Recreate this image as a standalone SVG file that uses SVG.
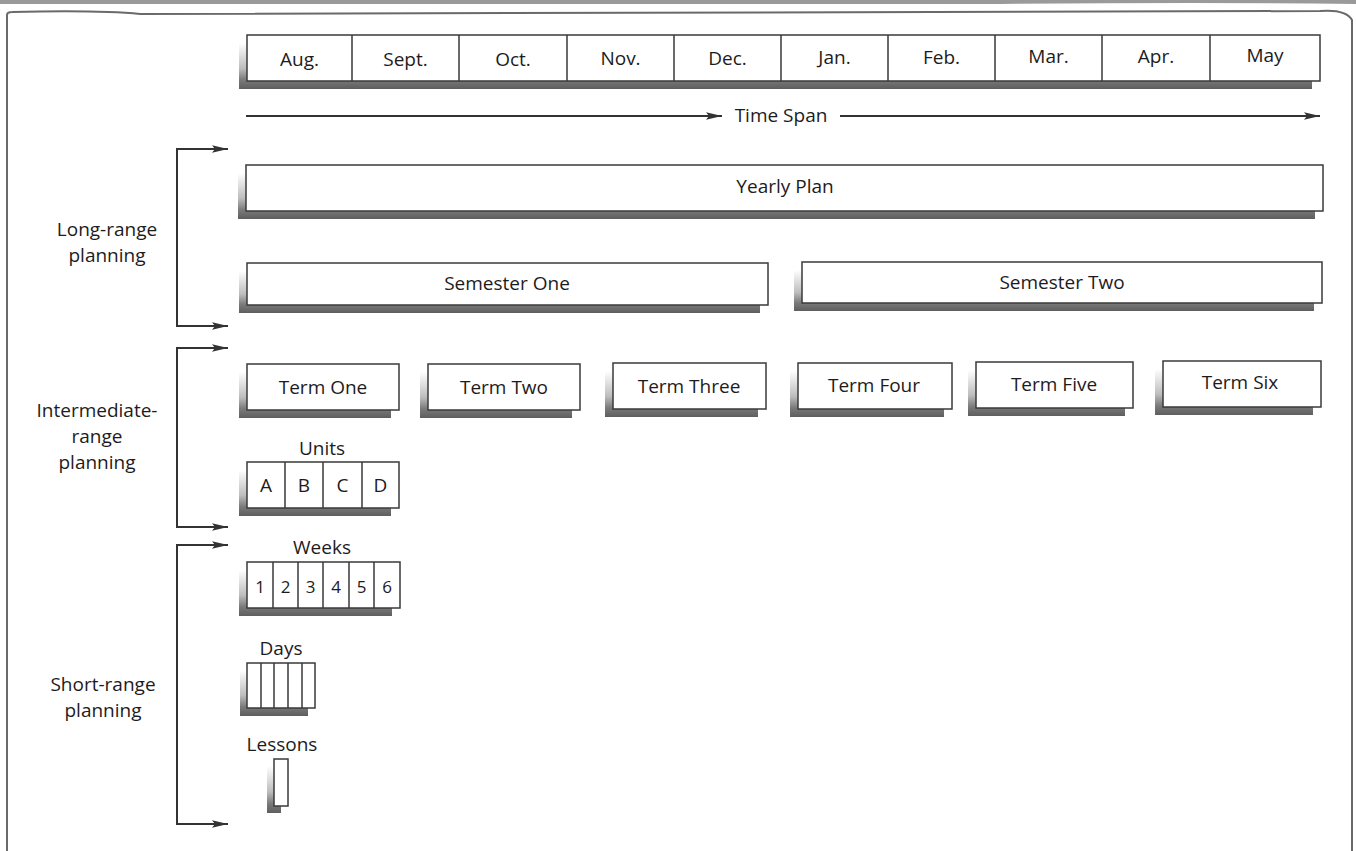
<svg xmlns="http://www.w3.org/2000/svg" width="1356" height="851" viewBox="0 0 1356 851">
<defs>
<linearGradient id="sh" x1="0" y1="0" x2="0" y2="1">
<stop offset="0" stop-color="#ffffff"/>
<stop offset="0.55" stop-color="#bdbdbd"/>
<stop offset="0.8" stop-color="#7a7a7a"/>
<stop offset="1" stop-color="#5e5e5e"/>
</linearGradient>
<marker id="ah" markerUnits="userSpaceOnUse" markerWidth="17" markerHeight="10" refX="16" refY="5" orient="auto">
<path d="M0,1.2 L16,5 L0,8.8 L3,5 Z" fill="#333"/>
</marker>
<style>
text{font-family:"Open Sans","Noto Sans","Liberation Sans",sans-serif;fill:#1e1b1c;font-size:19px;text-anchor:middle}
.box{fill:#fff;stroke:#3a3a3a;stroke-width:1.5}
.sh{fill:url(#sh)}
.div{stroke:#3a3a3a;stroke-width:1.5}
.con{fill:none;stroke:#333;stroke-width:2}
.frame{fill:none;stroke:#6a6a6a;stroke-width:2}
.sm{font-size:17px}
</style>
</defs>
<rect width="1356" height="851" fill="#fff"/>
<path d="M0,0 H1356 V4 Q1200,2 1000,4 H0 Z" fill="#9a9a9a"/>
<path class="frame" d="M7,851 V15 Q7,12 12,12 Q100,10 140,14 L1320,11 Q1346,9 1352,20 V851"/>

<g id="months">
<rect class="sh" x="239" y="43" width="1073" height="46"/>
<rect class="box" x="247" y="35" width="1073" height="46"/>
<path class="div" d="M352,35V81M459,35V81M567,35V81M674,35V81M781,35V81M888,35V81M995,35V81M1102,35V81M1210,35V81"/>
<text x="299.5" y="66">Aug.</text>
<text x="405.5" y="66">Sept.</text>
<text x="513" y="66">Oct.</text>
<text x="620.5" y="65">Nov.</text>
<text x="727.5" y="65">Dec.</text>
<text x="834.5" y="64">Jan.</text>
<text x="941.5" y="64">Feb.</text>
<text x="1048.5" y="63">Mar.</text>
<text x="1156" y="63">Apr.</text>
<text x="1265" y="62">May</text>
</g>

<g id="time-span">
<text x="781" y="122">Time Span</text>
</g>

<g id="yearly-plan">
<rect class="sh" x="238" y="173" width="1077" height="46"/>
<rect class="box" x="246" y="165" width="1077" height="46"/>
<text x="785" y="193">Yearly Plan</text>
</g>

<g id="semester-one">
<rect class="sh" x="239" y="271" width="521" height="42"/>
<rect class="box" x="247" y="263" width="521" height="42"/>
<text x="507" y="290">Semester One</text>
</g>

<g id="semester-two">
<rect class="sh" x="794" y="270" width="520" height="41"/>
<rect class="box" x="802" y="262" width="520" height="41"/>
<text x="1062" y="289">Semester Two</text>
</g>

<g id="term-one">
<rect class="sh" x="239" y="372" width="152" height="46"/>
<rect class="box" x="247" y="364" width="152" height="46"/>
<text x="323" y="394">Term One</text>
</g>
<g id="term-two">
<rect class="sh" x="420" y="372" width="152" height="46"/>
<rect class="box" x="428" y="364" width="152" height="46"/>
<text x="504" y="394">Term Two</text>
</g>
<g id="term-three">
<rect class="sh" x="605" y="371" width="153" height="46"/>
<rect class="box" x="613" y="363" width="153" height="46"/>
<text x="689" y="393">Term Three</text>
</g>
<g id="term-four">
<rect class="sh" x="790" y="371" width="154" height="46"/>
<rect class="box" x="798" y="363" width="154" height="46"/>
<text x="874" y="392">Term Four</text>
</g>
<g id="term-five">
<rect class="sh" x="968" y="370" width="157" height="46"/>
<rect class="box" x="976" y="362" width="157" height="46"/>
<text x="1054" y="391">Term Five</text>
</g>
<g id="term-six">
<rect class="sh" x="1155" y="369" width="158" height="46"/>
<rect class="box" x="1163" y="361" width="158" height="46"/>
<text x="1240" y="389">Term Six</text>
</g>

<g id="units">
<text x="322" y="455">Units</text>
<rect class="sh" x="239" y="470" width="152" height="46"/>
<rect class="box" x="247" y="462" width="152" height="46"/>
<path class="div" d="M285,462V508M323,462V508M362,462V508"/>
<text x="266" y="492">A</text>
<text x="304" y="492">B</text>
<text x="342.5" y="492">C</text>
<text x="380.5" y="492">D</text>
</g>

<g id="weeks">
<text x="322" y="554">Weeks</text>
<rect class="sh" x="239" y="570" width="153" height="46"/>
<rect class="box" x="247" y="562" width="153" height="46"/>
<path class="div" d="M273,562V608M298,562V608M323,562V608M349,562V608M374,562V608"/>
<text class="sm" x="260" y="593">1</text>
<text class="sm" x="285.5" y="593">2</text>
<text class="sm" x="310.5" y="593">3</text>
<text class="sm" x="336" y="593">4</text>
<text class="sm" x="361.5" y="593">5</text>
<text class="sm" x="387" y="593">6</text>
</g>

<g id="days">
<text x="281" y="655">Days</text>
<rect class="sh" x="240" y="670" width="68" height="46"/>
<rect class="box" x="247" y="663" width="68" height="45"/>
<path class="div" d="M261,663V708M274,663V708M288,663V708M302,663V708"/>
</g>

<g id="lessons">
<text x="282" y="751">Lessons</text>
<rect class="sh" x="267" y="766" width="14" height="47"/>
<rect class="box" x="274" y="759" width="14" height="47"/>
</g>

<g id="labels">
<text x="107" y="236">Long-range</text>
<text x="107" y="262">planning</text>
<text x="97" y="417">Intermediate-</text>
<text x="97" y="443">range</text>
<text x="97" y="469">planning</text>
<text x="103" y="691">Short-range</text>
<text x="103" y="717">planning</text>
</g>

<g id="connectors">
<line class="con" x1="246" y1="116" x2="722" y2="116" marker-end="url(#ah)"/>
<line class="con" x1="840" y1="116" x2="1320" y2="116" marker-end="url(#ah)"/>
<path class="con" d="M226,149 H177 V326 H226"/>
<line class="con" x1="177" y1="149" x2="228" y2="149" marker-end="url(#ah)"/>
<line class="con" x1="177" y1="326" x2="228" y2="326" marker-end="url(#ah)"/>
<path class="con" d="M226,348 H177 V527 H226"/>
<line class="con" x1="177" y1="348" x2="228" y2="348" marker-end="url(#ah)"/>
<line class="con" x1="177" y1="527" x2="228" y2="527" marker-end="url(#ah)"/>
<path class="con" d="M226,545 H177 V824 H226"/>
<line class="con" x1="177" y1="545" x2="228" y2="545" marker-end="url(#ah)"/>
<line class="con" x1="177" y1="824" x2="228" y2="824" marker-end="url(#ah)"/>
</g>
</svg>
